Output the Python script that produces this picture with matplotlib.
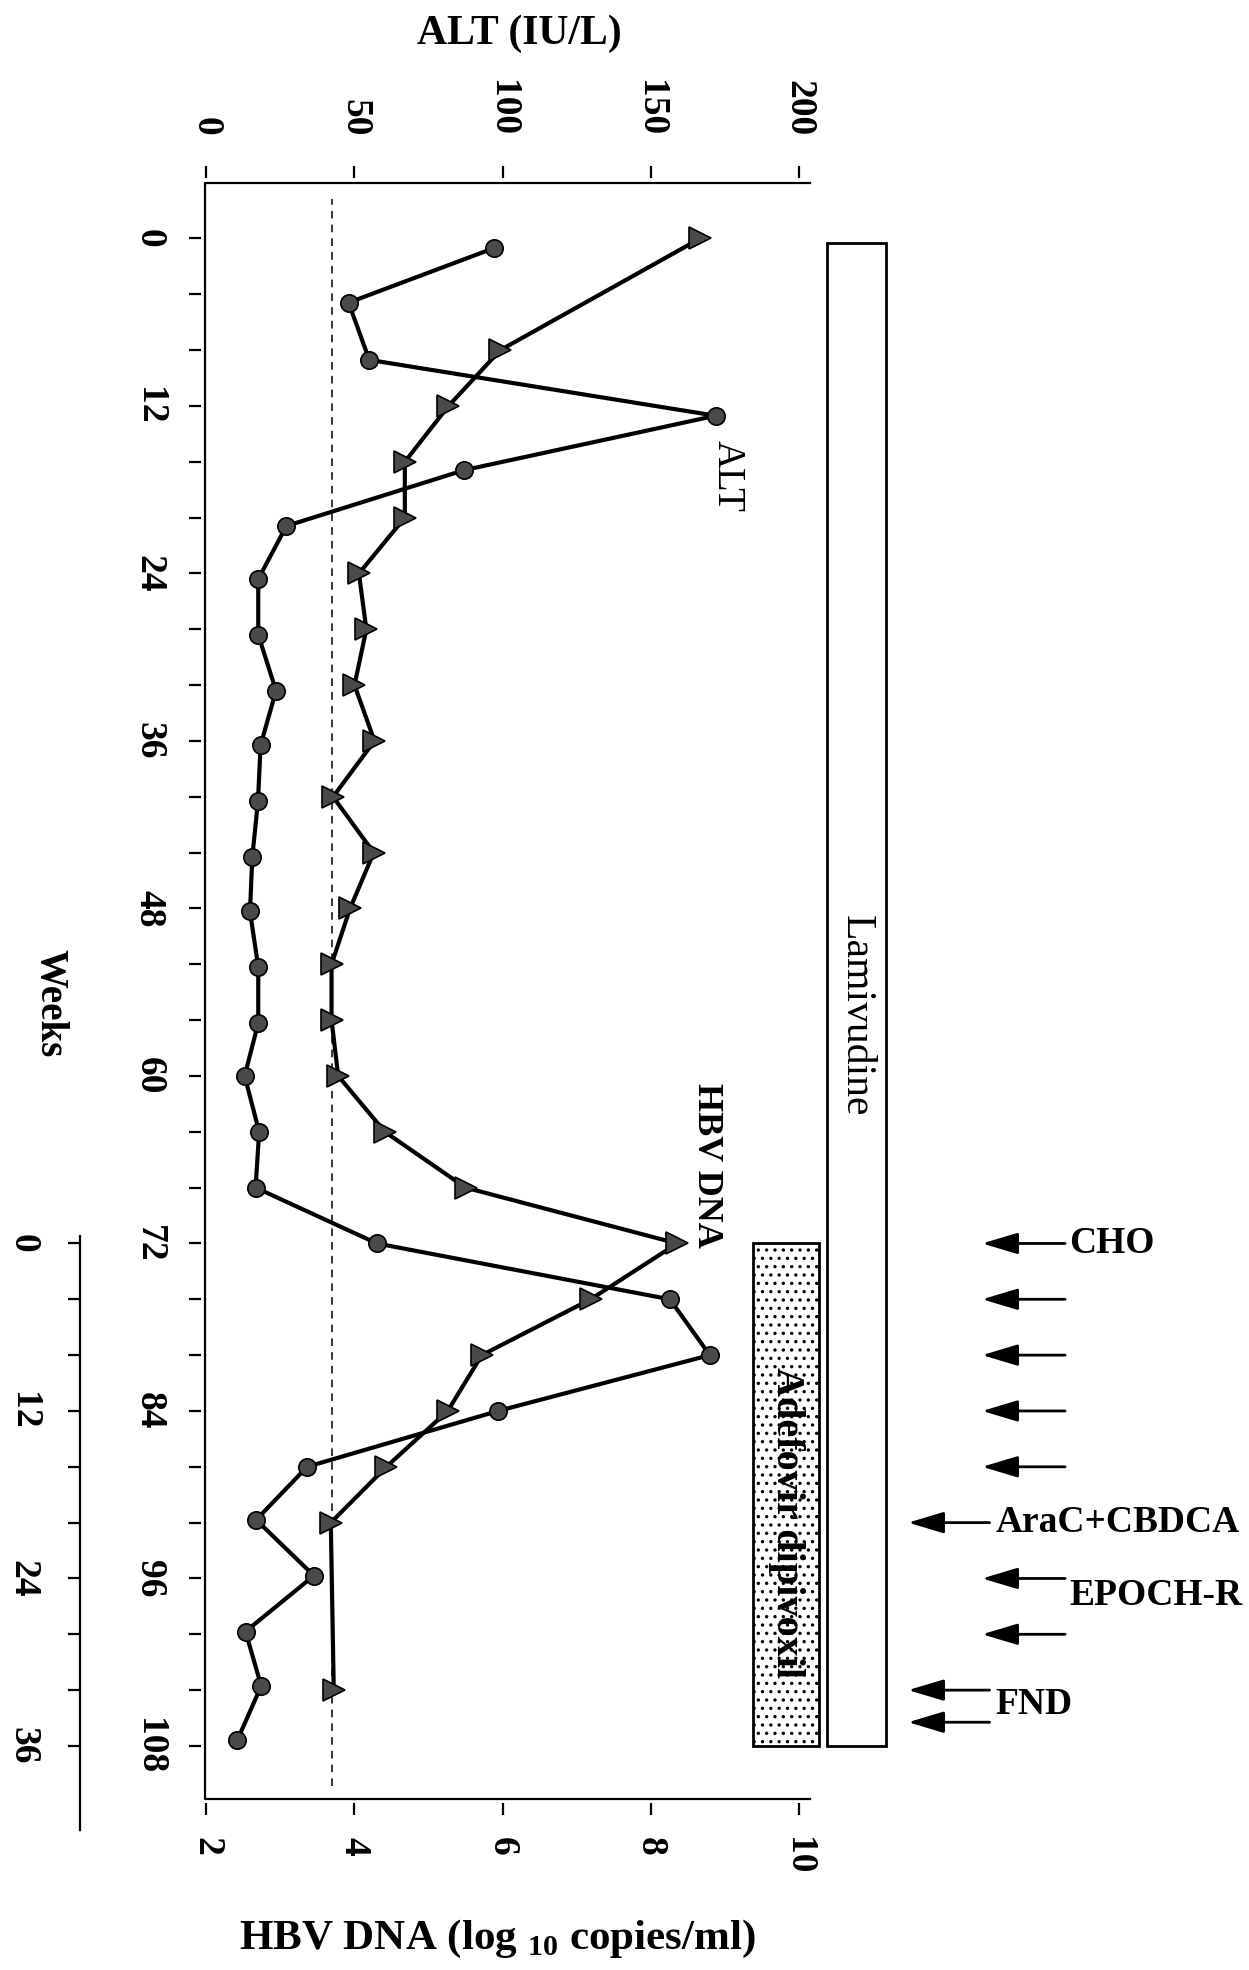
import matplotlib
matplotlib.use('Agg')
import matplotlib.pyplot as plt
from matplotlib.patches import Rectangle

plt.rcParams['font.family'] = ['Liberation Serif', 'DejaVu Serif']
plt.rcParams['font.weight'] = 'bold'
plt.rcParams['xtick.labelsize'] = 27
plt.rcParams['ytick.labelsize'] = 27
plt.rcParams['mathtext.fontset'] = 'custom'
plt.rcParams['mathtext.rm'] = 'Liberation Serif'
plt.rcParams['mathtext.bf'] = 'Liberation Serif:bold'
plt.rcParams['hatch.linewidth'] = 1.2

# ---------------- data ----------------
alt_weeks = [0.7, 4.6, 8.7, 12.7, 16.6, 20.6, 24.4, 28.4, 32.4, 36.3, 40.3, 44.3,
             48.2, 52.2, 56.2, 60.0, 64.0, 68.0, 72.0, 76.0, 80.0, 84.0, 88.0,
             91.8, 95.8, 99.8, 103.7, 107.6]
alt_values = [97, 48, 55, 172, 87, 27, 17.5, 17.5, 23.5, 18.3, 17.4, 15.5,
              14.7, 17.5, 17.5, 12.9, 17.8, 16.6, 57.6, 156.5, 170, 98.5, 34,
              16.8, 36.3, 13.2, 18.5, 10.4]

dna_weeks = [0, 8, 12, 16, 20, 24, 28, 32, 36, 40, 44, 48, 52, 56, 60, 64, 68,
             72, 76, 80, 84, 88, 92, 104]
dna_values = [8.67, 5.97, 5.27, 4.68, 4.68, 4.06, 4.16, 4.0, 4.27, 3.71, 4.26,
              3.94, 3.69, 3.69, 3.78, 4.41, 5.50, 8.36, 7.19, 5.72, 5.26, 4.43,
              3.68, 3.72]

alt_ticks = [0, 50, 100, 150, 200]
dna_ticks = [2, 4, 6, 8, 10]
week_ticks = [0, 12, 24, 36, 48, 60, 72, 84, 96, 108]
week_minor = [w for w in range(0, 109, 4) if w % 12]
chemo_ticks = [0, 12, 24, 36]
chemo_minor = [4, 8, 16, 20, 28, 32]
chemo_start = 72

detection_limit = 3.7
lamivudine_span = (0.3, 108.0)
adefovir_span = (72.0, 108.0)

arrow_weeks = [72, 76, 80, 84, 88, 92, 96, 100, 104, 106.3]
arrow_long = [False, False, False, False, False, True, False, False, True, True]
regimen_labels = ['CHO', 'AraC+CBDCA', 'EPOCH-R', 'FND']
regimen_weeks = [72, 92, 97.2, 105.0]
regimen_long = [False, True, False, True]

# ---------------- figure ----------------
fig = plt.figure(figsize=(12.49, 19.70), dpi=100)
ax = fig.add_axes([0.1641, 0.0868, 0.6489 - 0.1641, 0.9073 - 0.0868])
axh = ax.twiny()
ax2 = ax.twinx()

alt_lim = (-0.5, 204.0)
week_lim = (111.8, -4.0)
ax.set_xlim(*alt_lim)
ax.set_ylim(*week_lim)
axh.set_xlim(2 + alt_lim[0] / 25.0, 2 + alt_lim[1] / 25.0)
ax2.set_ylim(week_lim[0] - chemo_start, week_lim[1] - chemo_start)

tick_len, tick_w = 8.6, 1.6

# top ALT axis
ax.xaxis.set_ticks_position('top')
ax.xaxis.set_label_position('top')
ax.set_xticks(alt_ticks)
ax.set_xticklabels([str(v) for v in alt_ticks])
ax.tick_params(axis='x', which='both', top=True, bottom=False, labeltop=True,
               labelbottom=False, length=tick_len, width=tick_w, pad=22,
               labelrotation=270)
ax.xaxis.get_major_ticks()[0].tick2line.set_visible(False)

# left weeks axis
ax.yaxis.set_ticks_position('left')
ax.set_yticks(week_ticks)
ax.set_yticklabels([str(v) for v in week_ticks])
ax.set_yticks(week_minor, minor=True)
ax.tick_params(axis='y', which='both', left=True, right=False, length=tick_len,
               width=tick_w, pad=16, labelrotation=270)

for side in ['left', 'top']:
    ax.spines[side].set_position(('outward', 3))
    ax.spines[side].set_color('none')
for side in ['right', 'bottom']:
    ax.spines[side].set_visible(False)
ax.plot([1, 0, 0, 1], [1, 1, 0, 0], transform=ax.transAxes, color='black',
        lw=1.6, clip_on=False, zorder=5)

# bottom HBV DNA axis
axh.xaxis.set_ticks_position('bottom')
axh.xaxis.set_label_position('bottom')
axh.set_xticks(dna_ticks)
axh.set_xticklabels([str(v) for v in dna_ticks])
axh.tick_params(axis='x', which='both', bottom=True, top=False, labelbottom=True,
                labeltop=False, length=tick_len, width=tick_w, pad=16,
                labelrotation=270)
axh.xaxis.get_major_ticks()[0].tick1line.set_visible(False)
for side in ['left', 'top', 'right']:
    axh.spines[side].set_visible(False)
axh.spines['bottom'].set_position(('outward', 3))
axh.spines['bottom'].set_color('none')

# secondary (chemotherapy) weeks axis
ax2.yaxis.set_ticks_position('left')
ax2.yaxis.set_label_position('left')
ax2.set_yticks(chemo_ticks)
ax2.set_yticklabels([str(v) for v in chemo_ticks])
ax2.set_yticks(chemo_minor, minor=True)
ax2.tick_params(axis='y', which='both', left=True, right=False, length=tick_len,
                width=tick_w, pad=20, labelrotation=270)
for side in ['top', 'right', 'bottom']:
    ax2.spines[side].set_visible(False)
ax2.spines['left'].set_position(('axes', -0.206))
ax2.spines['left'].set_bounds(-0.5, 42.0)
ax2.spines['left'].set_linewidth(1.6)

for lab in ax.get_yticklabels() + ax2.get_yticklabels():
    lab.set_verticalalignment('center')

# detection limit
axh.axvline(detection_limit, ymin=0.008, ymax=0.99, color='black', lw=1.1,
            ls=(0, (5, 4)), zorder=1)

# series
ax.plot(alt_values, alt_weeks, '-o', color='black', lw=3.0, ms=12.5,
        mfc='#4a4a4a', mec='black', mew=1.2, zorder=3)
axh.plot(dna_values, dna_weeks, '->', color='black', lw=3.0, ms=16,
         mfc='#4a4a4a', mec='black', mew=1.2, zorder=3)

# annotations
ax.text(176, 17.0, 'ALT', rotation=270, ha='center', va='center', fontsize=28,
        fontweight='normal', clip_on=False)
ax.text(168.8, 66.4, 'HBV DNA', rotation=270, ha='center', va='center',
        fontsize=26, clip_on=False)

# treatment bars
ax.add_patch(Rectangle((209.5, lamivudine_span[0]), 20.0,
                       lamivudine_span[1] - lamivudine_span[0],
                       facecolor='white', edgecolor='black', lw=2.0, clip_on=False))
ax.text(219.5, 55.7, 'Lamivudine', rotation=270, ha='center', va='center',
        fontsize=30, fontweight='normal', clip_on=False)
ax.add_patch(Rectangle((184.5, adefovir_span[0]), 22.5,
                       adefovir_span[1] - adefovir_span[0],
                       facecolor='white', edgecolor='black', lw=2.0, hatch='..',
                       clip_on=False))
ax.text(195.8, 92.0, 'Adefovir dipivoxil', rotation=270, ha='center', va='center',
        fontsize=29, clip_on=False)

# chemotherapy arrows
for w, lng in zip(arrow_weeks, arrow_long):
    tip, tail = (237.0, 264.5) if lng else (262.0, 290.0)
    ax.annotate('', xy=(tip, w), xytext=(tail, w), annotation_clip=False,
                arrowprops=dict(arrowstyle='-|>,head_length=1.0,head_width=0.3',
                                lw=2.0, color='black', shrinkA=0, shrinkB=0,
                                mutation_scale=22))
for lab, w, lng in zip(regimen_labels, regimen_weeks, regimen_long):
    ax.text(266.5 if lng else 291.5, w, lab, ha='left', va='center', fontsize=27,
            clip_on=False)

# axis titles
fig.text(0.416, 0.983, 'ALT (IU/L)', ha='center', va='center', fontsize=30)
fig.text(0.398, 0.0155, r'HBV DNA (log $_{\mathbf{10}}$ copies/ml)', ha='center',
         va='center', fontsize=31)
fig.text(0.04, 0.491, 'Weeks', rotation=270, ha='center', va='center',
         fontsize=28)

fig.savefig('out.png', dpi=100)
